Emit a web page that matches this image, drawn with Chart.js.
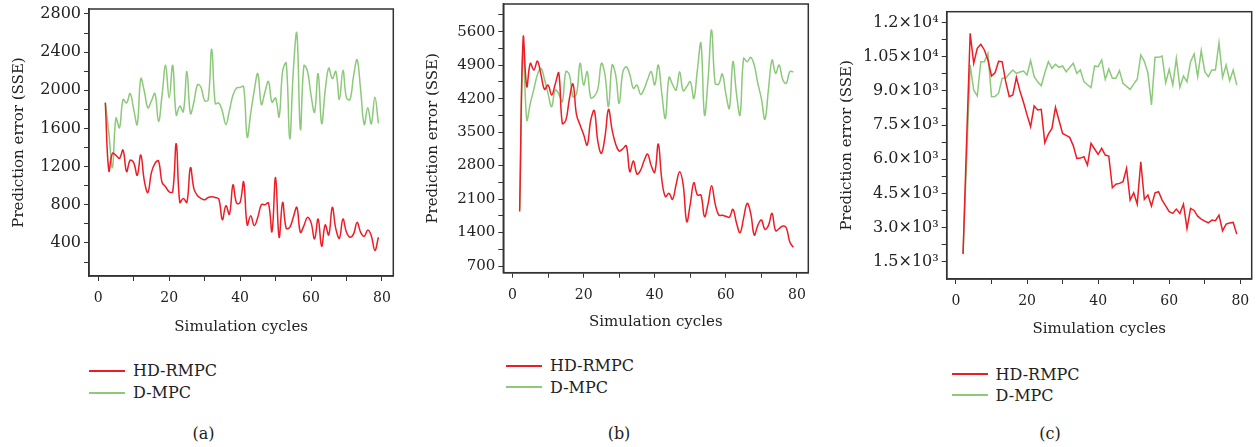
<!DOCTYPE html>
<html>
<head>
<meta charset="utf-8">
<script src="https://cdn.jsdelivr.net/npm/chart.js@4.4.1/dist/chart.umd.min.js"></script>
<style>
  body { margin: 0; width: 1258px; height: 447px; background: #fff; position: relative; overflow: hidden;
         font-family: "DejaVu Serif", serif; color: #222; }
  .panel { position: absolute; top: 0; }
  .row { position: absolute; height: 22px; display: flex; align-items: center; font-size: 16px; white-space: nowrap; }
  .swatch { width: 36px; height: 2px; margin-right: 8px; }
  .cap { position: absolute; font-size: 16px; transform: translate(-50%, -50%); }
</style>
</head>
<body>
<div class="panel" style="left:0px"><canvas id="chartA" width="400" height="345"></canvas></div>
<div class="panel" style="left:405px"><canvas id="chartB" width="415" height="345"></canvas></div>
<div class="panel" style="left:820px"><canvas id="chartC" width="438" height="345"></canvas></div>

<script>
// simulation cycles 2..79
const cycles = [2,3,4,5,6,7,8,9,10,11,12,13,14,15,16,17,18,19,20,21,
  22,23,24,25,26,27,28,29,30,31,32,33,34,35,36,37,38,39,40,41,
  42,43,44,45,46,47,48,49,50,51,52,53,54,55,56,57,58,59,60,61,
  62,63,64,65,66,67,68,69,70,71,72,73,74,75,76,77,78,79];

// (a)
const hdA = [1868,1155,1340,1319,1287,1374,1148,1267,1242,1110,
  1322,1051,929,1138,1235,1260,1034,989,936,936,
  1440,825,867,825,1190,964,895,867,853,877,
  884,877,860,644,790,700,1010,818,825,1040,
  589,686,582,669,801,801,818,519,1086,460,
  825,554,564,669,773,512,582,669,616,443,
  651,366,589,484,773,547,450,651,512,460,
  495,616,512,470,536,477,321,460];
const dA = [1875,1550,1190,1708,1607,1903,1868,1966,1800,1642,
  2122,1990,1816,1890,1966,1673,1950,2261,1920,2261,
  1740,1834,1775,2198,1757,1880,2059,2030,1892,1900,
  2431,1861,1868,1780,1642,1790,1950,2025,2030,2040,
  1510,1760,2000,2174,1851,1980,2094,1875,1920,1722,
  2200,2285,1493,2200,2598,1590,2258,2200,1950,1771,
  2174,1653,2000,2233,2122,2198,1903,2209,1920,1903,
  2150,2320,2000,1642,1816,1649,1930,1653];

// (b)
const hdB = [1840,5481,4450,4938,4798,4987,4700,4394,4485,4276,
  4500,4736,3683,3750,4200,4506,3858,3650,3450,3230,
  3750,3948,3300,3056,3400,3976,3550,3250,3104,3150,
  3215,2672,2895,2623,2700,2900,3042,2800,2658,3250,
  2500,2150,2220,2094,2400,2673,2400,1627,2000,2443,
  2185,2185,1732,2000,2380,2000,1767,1760,1740,1718,
  1885,1600,1397,1700,2010,1800,1348,1550,1662,1467,
  1550,1801,1439,1480,1537,1500,1200,1090];
const dB = [1900,5286,3753,4100,4400,4700,4833,4600,4300,4032,
  4380,4300,4136,4764,4700,4241,4300,4938,4485,4764,
  4220,4250,4400,4938,4700,4032,4903,4700,4101,4750,
  4868,4700,4415,4485,4290,4400,4600,4764,4485,4903,
  4300,3788,4645,4500,4380,4764,4366,4450,4555,4206,
  4800,5356,3858,4600,5635,4520,4506,4715,4300,3997,
  4973,4300,3858,5042,4973,5063,4900,4520,4200,3767,
  4400,5008,4729,4903,4600,4520,4764,4764];

// (c)
const hdC = [1833,6800,11531,10213,10872,11048,10799,10360,9656,9800,
  10300,10286,9407,8748,8821,9597,9000,8500,7950,7429,
  8338,8162,8191,6726,7100,7356,8279,7700,7136,7050,
  6960,6600,6037,6050,6110,5744,6697,6450,6213,6477,
  6184,6140,4748,4900,4939,5012,5598,4206,4528,4030,
  5891,4236,4426,3943,4528,4572,4206,3950,3700,3620,
  3811,3620,4030,2961,3840,3750,3500,3371,3280,3210,
  3327,3298,3547,2858,3151,3200,3225,2712];
const dC = [1862,6000,10140,9041,8777,10286,10286,10652,8748,8760,
  8900,9553,9553,9750,9920,9773,9830,9876,9700,10330,
  9627,9400,9231,9800,10286,9993,10169,10037,10096,9847,
  10030,10213,9773,9920,9407,9270,9143,10096,10067,10360,
  9510,9964,9553,9553,9890,9334,9200,9070,9300,9510,
  10579,10300,9800,8381,10476,10476,10535,9363,9949,9260,
  10432,9158,9656,9407,10286,10623,9627,10770,9847,9627,
  9920,9920,11121,9597,10140,9451,9920,9260];

// ticks
const xTicks = [0,10,20,30,40,50,60,70,80];
const xLabels = [0,20,40,60,80];
const yTicksA = [200,400,600,800,1000,1200,1400,1600,1800,2000,2200,2400,2600,2800];
const yLabelsA = [400,800,1200,1600,2000,2400,2800];
const yTicksB = [700,1050,1400,1750,2100,2450,2800,3150,3500,3850,4200,4550,4900,5250,5600,5950];
const yLabelsB = [700,1400,2100,2800,3500,4200,4900,5600];
const yTicksC = [1500,2250,3000,3750,4500,5250,6000,6750,7500,8250,9000,9750,10500,11250,12000];
const yMajorC = [1500,3000,4500,6000,7500,9000,10500,12000];
const yTextC = ['1.5×10³','3.0×10³','4.5×10³','6.0×10³','7.5×10³','9.0×10³','1.05×10⁴','1.2×10⁴'];

const RED = '#ee1c25';
const GREEN = '#8cc97a';
const FONT = '"DejaVu Serif", serif';
const INK = '#222';
const AXIS = '#333';

const framePlugin = {
  id: 'frame',
  afterDraw(chart) {
    const { ctx, chartArea: a } = chart;
    ctx.save();
    ctx.strokeStyle = AXIS;
    ctx.lineWidth = 1.5;
    ctx.strokeRect(a.left, a.top, a.right - a.left, a.bottom - a.top);
    ctx.restore();
  }
};

function drawChart(id, hd, dm, o) {
  const pts = vals => cycles.map((c, i) => ({ x: c, y: vals[i] }));
  return new Chart(document.getElementById(id), {
    type: 'line',
    data: {
      datasets: [
        { label: 'HD-RMPC', data: pts(hd), borderColor: RED, borderWidth: 1.5, pointRadius: 0, tension: o.tension, fill: false },
        { label: 'D-MPC', data: pts(dm), borderColor: GREEN, borderWidth: 1.5, pointRadius: 0, tension: o.tension, fill: false }
      ]
    },
    options: {
      responsive: false,
      animation: false,
      events: [],
      layout: { padding: o.pad },
      plugins: { legend: { display: false }, tooltip: { enabled: false } },
      scales: {
        x: {
          type: 'linear', min: -2.6, max: 83.2,
          afterBuildTicks: ax => { ax.ticks = xTicks.map(v => ({ value: v })); },
          afterFit: ax => { ax.height = o.xH; ax.paddingLeft = 0; ax.paddingRight = 0; },
          ticks: { autoSkip: false, maxRotation: 0, padding: 9, color: INK, font: { family: FONT, size: 14 },
                   callback: v => xLabels.includes(v) ? String(v) : '' },
          grid: { drawOnChartArea: false, tickLength: 5, color: AXIS },
          border: { color: AXIS, width: 1.5 },
          title: { display: true, text: 'Simulation cycles', color: INK, font: { family: FONT, size: 15 },
                   padding: { top: 0, bottom: o.xTitlePad } }
        },
        y: {
          min: o.yMin, max: o.yMax,
          afterBuildTicks: ax => { ax.ticks = o.yTicks.map(v => ({ value: v })); },
          afterFit: ax => { ax.width = o.yW; ax.paddingTop = 0; ax.paddingBottom = 0; },
          ticks: { autoSkip: false, padding: 3, color: INK, font: { family: FONT, size: o.yFont },
                   callback: o.yLabel },
          grid: { drawOnChartArea: false, tickLength: 5, color: AXIS },
          border: { color: AXIS, width: 1.5 },
          title: { display: true, text: 'Prediction error (SSE)', color: INK, font: { family: FONT, size: 15 },
                   padding: { top: o.yTitlePad, bottom: 0 } }
        }
      }
    },
    plugins: [framePlugin]
  });
}

function addLegend(chart, left, top, gap) {
  chart.data.datasets.forEach((ds, i) => {
    const row = document.createElement('div');
    row.className = 'row';
    row.style.left = left + 'px';
    row.style.top = (top + i * gap - 11) + 'px';
    const sw = document.createElement('span');
    sw.className = 'swatch';
    sw.style.background = ds.borderColor;
    row.appendChild(sw);
    row.appendChild(document.createTextNode(ds.label));
    document.body.appendChild(row);
  });
}

function addCaption(text, x, y) {
  const c = document.createElement('div');
  c.className = 'cap';
  c.style.left = x + 'px';
  c.style.top = y + 'px';
  c.textContent = text;
  document.body.appendChild(c);
}

const chartA = drawChart('chartA', hdA, dA, {
  tension: 0.4, pad: { left: 0, top: 9, right: 6.7, bottom: 0 }, xH: 69, xTitlePad: 9.3,
  yMin: 54, yMax: 2852, yTicks: yTicksA, yW: 89, yFont: 16, yTitlePad: 10,
  yLabel: v => yLabelsA.includes(v) ? String(v) : ''
});
const chartB = drawChart('chartB', hdB, dB, {
  tension: 0.4, pad: { left: 0, top: 4, right: 11.7, bottom: 0 }, xH: 72.3, xTitlePad: 14.3,
  yMin: 560, yMax: 6179, yTicks: yTicksB, yW: 98.3, yFont: 15, yTitlePad: 19,
  yLabel: v => yLabelsB.includes(v) ? String(v) : ''
});
const chartC = drawChart('chartC', hdC, dC, {
  tension: 0, pad: { left: 0, top: 11.7, right: 6.3, bottom: 0 }, xH: 66, xTitlePad: 6.7,
  yMin: 740, yMax: 12480, yTicks: yTicksC, yW: 126.7, yFont: 16, yTitlePad: 17.7,
  yLabel: v => { const k = yMajorC.indexOf(v); return k >= 0 ? yTextC[k] : ''; }
});

addLegend(chartA, 89, 370.7, 22);
addLegend(chartB, 506, 365.7, 21.6);
addLegend(chartC, 951.6, 374, 21);
addCaption('(a)', 203.6, 433.3);
addCaption('(b)', 619, 433.3);
addCaption('(c)', 1050, 433.3);
</script>
</body>
</html>
